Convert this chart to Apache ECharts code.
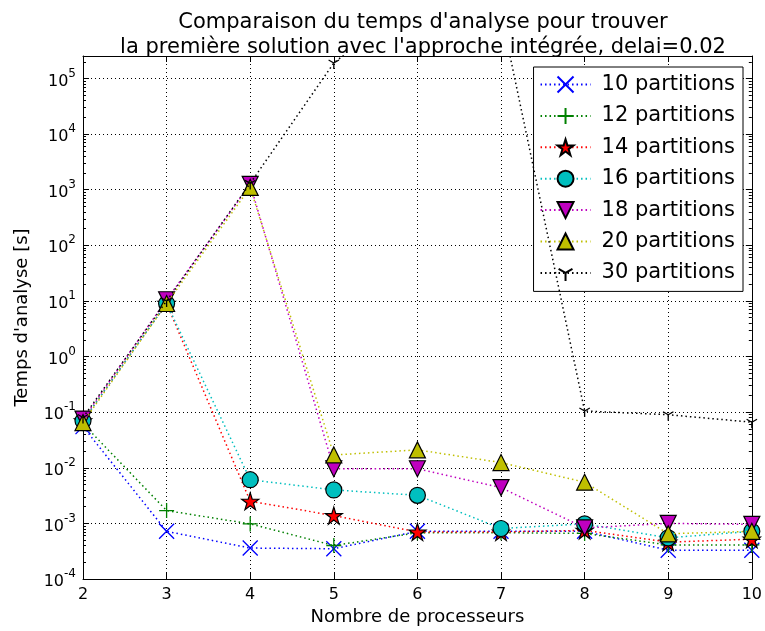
<!DOCTYPE html>
<html>
<head>
<meta charset="utf-8">
<script src="https://cdn.jsdelivr.net/npm/echarts@6/dist/echarts.min.js"></script>
<style>html,body{margin:0;padding:0;background:#fff}#c{width:765px;height:631px}</style>
</head>
<body>
<div id="c"></div>
<script>
// ---- data ----
const processeurs = [2, 3, 4, 5, 6, 7, 8, 9, 10];
const p10 = [0.055, 7.2e-4, 3.6e-4, 3.5e-4, 7.2e-4, 7.2e-4, 7.2e-4, 3.3e-4, 3.3e-4];
const p12 = [0.062, 1.7e-3, 9.8e-4, 4.0e-4, 6.8e-4, 6.8e-4, 6.6e-4, 4.1e-4, 4.1e-4];
const p14 = [0.07, 9.0, 2.5e-3, 1.38e-3, 7.0e-4, 7.0e-4, 7.5e-4, 4.6e-4, 5.2e-4];
const p16 = [0.07, 9.0, 6.1e-3, 4.0e-3, 3.2e-3, 8.1e-4, 9.8e-4, 5.5e-4, 7.2e-4];
const p18 = [0.075, 10.5, 1250, 9.6e-3, 9.6e-3, 4.4e-3, 8.3e-4, 1.0e-3, 9.6e-4];
const p20 = [0.065, 9.0, 1100, 1.7e-2, 2.1e-2, 1.24e-2, 5.5e-3, 6.5e-4, 7.2e-4];
const p30 = [0.08, 10, 1300, 1.9e5, 3e6, 1.5e6, 0.105, 0.09, 0.066];
const seriesNames = ['10 partitions', '12 partitions', '14 partitions', '16 partitions', '18 partitions', '20 partitions', '30 partitions'];
const yTickValues = [1e-4, 1e-3, 1e-2, 1e-1, 1, 10, 100, 1e3, 1e4, 1e5];
const yMin = 1e-4, yMax = 2.54e5;

const minorVals = [];
for (let e = -4; e <= 5; e++) for (let m = 2; m <= 9; m++) { const v = m * Math.pow(10, e); if (v < yMax) minorVals.push(v); }

const FONT = 'DejaVu Sans';
const colors = ['#0000ff', '#008000', '#ff0000', '#00bfbf', '#bf00bf', '#bfbf00', '#000000'];
const symbols = [
  'path://M0,0L10,10M10,0L0,10',
  'path://M5,0L5,10M0,5L10,5',
  'path://M50,0L61.8,36.2L100,36.2L69.1,58.6L80.9,95.1L50,72.7L19.1,95.1L30.9,58.6L0,36.2L38.2,36.2Z',
  'circle',
  'path://M0,0L10,0L5,9Z',
  'path://M5,0L10,9L0,9Z',
  'path://M0,0M10,10M5,5L5,10M5,5L0.67,2.5M5,5L9.33,2.5'
];
const sizes = [15, 15, 17, 16, 16, 16, 12];
const open = [true, true, false, false, false, false, true];
const values = [p10, p12, p14, p16, p18, p20, p30];

const series = values.map((vals, k) => ({
  name: seriesNames[k],
  type: 'line',
  data: processeurs.map((x, i) => [x, vals[i]]),
  symbol: symbols[k],
  symbolSize: sizes[k],
  showAllSymbol: true,
  clip: true,
  lineStyle: { color: colors[k], width: 1.5, type: [1.5, 3] },
  itemStyle: open[k]
    ? { color: 'rgba(0,0,0,0)', borderColor: colors[k], borderWidth: 1.3 }
    : { color: colors[k], borderColor: '#000', borderWidth: 1.2 },
  emphasis: { disabled: true },
  z: 2 + k
}));

const chart = echarts.init(document.getElementById('c'), null, { renderer: 'canvas' });
const commonY = { type: 'log', logBase: 10, min: yMin, max: yMax, gridIndex: 0 };
chart.setOption({
  animation: false,
  backgroundColor: '#fff',
  textStyle: { fontFamily: FONT },
  title: {
    text: "Comparaison du temps d'analyse pour trouver\nla première solution avec l'approche intégrée, delai=0.02",
    left: 418, textAlign: 'center', top: 5,
    textStyle: { fontFamily: FONT, fontSize: 21, fontWeight: 'normal', color: '#000', lineHeight: 25 }
  },
  grid: { left: 83, right: 12, top: 56, bottom: 52, containLabel: false },
  legend: {
    orient: 'vertical', right: 22, top: 67,
    data: seriesNames,
    itemWidth: 50, itemHeight: 20, itemGap: 10.4,
    padding: [7, 8, 8, 6],
    backgroundColor: '#fff', borderColor: '#000', borderWidth: 1,
    textStyle: { fontFamily: FONT, fontSize: 21, color: '#000', padding: [0, 0, 0, 6] },
    selectedMode: false
  },
  xAxis: [
    {
      type: 'value', min: 2, max: 10, interval: 1, position: 'bottom',
      name: 'Nombre de processeurs', nameLocation: 'middle', nameGap: 22,
      nameTextStyle: { fontFamily: FONT, fontSize: 18, color: '#000' },
      axisLine: { show: true, lineStyle: { color: '#000', width: 1 } },
      axisTick: { show: true, inside: true, length: 6, lineStyle: { color: '#000' } },
      axisLabel: { fontFamily: FONT, fontSize: 16, color: '#000', margin: 8 },
      splitLine: { show: true, lineStyle: { color: '#000', type: [1, 3], width: 1 } }
    },
    {
      type: 'value', min: 2, max: 10, interval: 1, position: 'top',
      axisLine: { show: true, lineStyle: { color: '#000', width: 1 } },
      axisTick: { show: true, inside: true, length: 6, lineStyle: { color: '#000' } },
      axisLabel: { show: false }, splitLine: { show: false }
    }
  ],
  yAxis: [
    Object.assign({}, commonY, {
      position: 'left',
      name: "Temps d'analyse [s]", nameLocation: 'middle', nameGap: 52,
      nameTextStyle: { fontFamily: FONT, fontSize: 18, color: '#000' },
      axisLine: { show: true, lineStyle: { color: '#000', width: 1 } },
      axisTick: { show: true, inside: true, length: 6, customValues: yTickValues, lineStyle: { color: '#000' } },
      axisLabel: {
        customValues: yTickValues, margin: 7, color: '#000',
        formatter: v => {
          const e = Math.round(Math.log10(v));
          return '{b|10}{s|' + String(e) + '}';
        },
        rich: {
          b: { fontFamily: FONT, fontSize: 16, color: '#000', verticalAlign: 'bottom' },
          s: { fontFamily: FONT, fontSize: 12, color: '#000', verticalAlign: 'top', padding: [0, 0, 10, 0] }
        }
      },
      splitLine: { show: true, lineStyle: { color: '#000', type: [1, 3], width: 1 } }
    }),
    Object.assign({}, commonY, {
      position: 'right',
      axisLine: { show: true, lineStyle: { color: '#000', width: 1 } },
      axisTick: { show: true, inside: true, length: 6, customValues: yTickValues, lineStyle: { color: '#000' } },
      axisLabel: { show: false }, splitLine: { show: false }
    }),
    Object.assign({}, commonY, {
      position: 'left',
      axisLine: { show: false },
      axisTick: { show: true, inside: true, length: 3, customValues: minorVals, lineStyle: { color: '#000' } },
      axisLabel: { show: false }, splitLine: { show: false }
    }),
    Object.assign({}, commonY, {
      position: 'right',
      axisLine: { show: false },
      axisTick: { show: true, inside: true, length: 3, customValues: minorVals, lineStyle: { color: '#000' } },
      axisLabel: { show: false }, splitLine: { show: false }
    })
  ],
  series: series
});
</script>
</body>
</html>
